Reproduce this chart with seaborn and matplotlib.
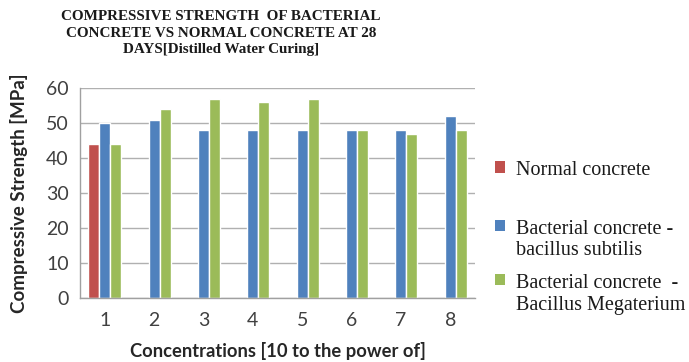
import matplotlib
matplotlib.use("Agg")
import matplotlib.pyplot as plt
import seaborn as sns
import pandas as pd
import numpy as np

categories = ["1", "2", "3", "4", "5", "6", "7", "8"]
normal = [44, np.nan, np.nan, np.nan, np.nan, np.nan, np.nan, np.nan]
subtilis = [50, 51, 48, 48, 48, 48, 48, 52]
megaterium = [44, 54, 57, 56, 57, 48, 47, 48]
series_names = ["Normal concrete", "Bacterial concrete -\nbacillus subtilis",
                "Bacterial concrete  -\nBacillus Megaterium"]
colors = ["#C0504D", "#4F81BD", "#9BBB59"]

rows = []
for name, vals in zip(series_names, [normal, subtilis, megaterium]):
    for c, v in zip(categories, vals):
        rows.append({"Concentration": c, "Series": name, "Value": v})
df = pd.DataFrame(rows)

sns.set_style("white")
fig = plt.figure(figsize=(6.89, 3.62), dpi=100)
ax = fig.add_axes([80/689, 1-298/362, 395/689, 210/362])

sns.barplot(data=df, x="Concentration", y="Value", hue="Series",
            hue_order=series_names, order=categories, palette=colors,
            width=0.67, saturation=1, ax=ax, legend=False)

ax.set_ylim(0, 60)
ax.set_yticks(range(0, 61, 10))
ax.set_xlim(-0.5, 7.5)
ax.yaxis.grid(True, color="#B0B0B0", linewidth=1)
ax.set_axisbelow(True)
for s in ["top", "right"]:
    ax.spines[s].set_visible(False)
for s in ["left", "bottom"]:
    ax.spines[s].set_color("#A0A0A0")
    ax.spines[s].set_linewidth(1)
ax.tick_params(axis="y", length=5, color="#A0A0A0", labelsize=14, labelcolor="#404040", pad=3)
ax.tick_params(axis="x", length=0, labelsize=14, labelcolor="#404040", pad=10)
for lab in ax.get_xticklabels() + ax.get_yticklabels():
    lab.set_family("Lato")

ax.set_xlabel("Concentrations [10 to the power of]", family="Lato", fontweight="bold",
              fontsize=13.2, color="#262626", labelpad=9.5)
ax.set_ylabel("Compressive Strength [MPa]", family="Lato", fontweight="bold",
              fontsize=13.5, color="#262626", labelpad=13)

fig.text(221/689, 1-10/362,
         "COMPRESSIVE STRENGTH  OF BACTERIAL\nCONCRETE VS NORMAL CONCRETE AT 28\nDAYS[Distilled Water Curing]",
         ha="center", va="top", family="Liberation Serif", fontweight="bold",
         fontsize=10.9, linespacing=1.36, color="#1a1a1a")

from matplotlib.patches import Patch
handles = [Patch(facecolor=c, edgecolor="none") for c in colors]
labels = ["Normal concrete\n", series_names[1], series_names[2]]
leg = fig.legend(handles, labels, loc="upper left", bbox_to_anchor=(477/689, 1-143/362),
                 frameon=False, prop={"family": "Liberation Serif", "size": 14.5},
                 handlelength=0.5, handleheight=0.5, handletextpad=0.55,
                 labelspacing=0.67)
for vp in leg._legend_handle_box.get_children():
    for hp in vp.get_children():
        hp.align = "top"
for t in leg.get_texts():
    t.set_color("#1a1a1a")
    t.set_linespacing(1.2)
leg.get_texts()[0].set_linespacing(1.5)

fig.savefig("out.png", dpi=100)
